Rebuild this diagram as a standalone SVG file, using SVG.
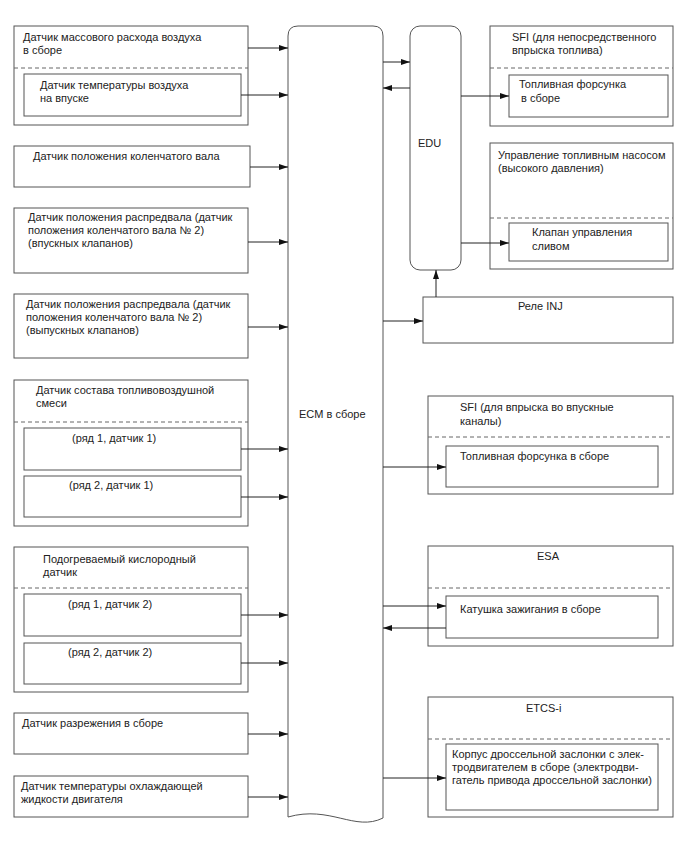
<svg xmlns="http://www.w3.org/2000/svg" width="688" height="852" viewBox="0 0 688 852">
<defs>
<marker id="ah" markerWidth="9" markerHeight="6" refX="9" refY="3" orient="auto" markerUnits="userSpaceOnUse"><path d="M0,0 L9,3 L0,6 Z" fill="#111"/></marker>
<style>
.b{fill:#fff;stroke:#555;stroke-width:1}
.d{stroke:#666;stroke-width:1;stroke-dasharray:4,3;fill:none}
.c{stroke:#222;stroke-width:1;fill:none;marker-end:url(#ah)}
text{font-family:"Liberation Sans",Arial,sans-serif;font-size:11px;fill:#222}
</style>
</defs>
<rect width="688" height="852" fill="#fff"/>
<g id="ecm">
<path class="b" d="M288,36 Q288,26 298,26 L373,26 Q383,26 383,36 L383,818 C355,832 330,805 288,817 Z"/>
<text x="299" y="418">ECM в сборе</text>
</g>
<g id="edu">
<rect class="b" x="410" y="26" width="51" height="244" rx="10"/>
<text x="418" y="147">EDU</text>
</g>
<g id="maf">
<rect class="b" x="14" y="26" width="234" height="99"/>
<line class="d" x1="14" y1="68" x2="248" y2="68"/>
<text x="23" y="41">Датчик массового расхода воздуха</text>
<text x="23" y="54">в сборе</text>
<rect class="b" x="24" y="74" width="217" height="42"/>
<text x="40" y="89">Датчик температуры воздуха</text>
<text x="40" y="102">на впуске</text>
</g>
<g id="ckp">
<rect class="b" x="14" y="146" width="236" height="41"/>
<text x="33" y="160">Датчик положения коленчатого вала</text>
</g>
<g id="cmp-in">
<rect class="b" x="14" y="208" width="234" height="65"/>
<text x="28" y="221">Датчик положения распредвала (датчик</text>
<text x="28" y="234">положения коленчатого вала № 2)</text>
<text x="28" y="247">(впускных клапанов)</text>
</g>
<g id="cmp-ex">
<rect class="b" x="14" y="294" width="234" height="64"/>
<text x="26" y="308">Датчик положения распредвала (датчик</text>
<text x="26" y="321">положения коленчатого вала № 2)</text>
<text x="26" y="334">(выпускных клапанов)</text>
</g>
<g id="af">
<rect class="b" x="14" y="380" width="234" height="146"/>
<text x="36" y="394">Датчик состава топливовоздушной</text>
<text x="36" y="407">смеси</text>
<line class="d" x1="14" y1="422" x2="248" y2="422"/>
<rect class="b" x="24" y="428" width="217" height="42"/>
<text x="72" y="442">(ряд 1, датчик 1)</text>
<rect class="b" x="24" y="476" width="217" height="41"/>
<text x="69" y="489">(ряд 2, датчик 1)</text>
</g>
<g id="o2">
<rect class="b" x="14" y="547" width="234" height="145"/>
<text x="43" y="563">Подогреваемый кислородный</text>
<text x="43" y="576">датчик</text>
<line class="d" x1="14" y1="588" x2="248" y2="588"/>
<rect class="b" x="24" y="594" width="217" height="42"/>
<text x="68" y="608">(ряд 1, датчик 2)</text>
<rect class="b" x="24" y="643" width="217" height="41"/>
<text x="68" y="656">(ряд 2, датчик 2)</text>
</g>
<g id="map">
<rect class="b" x="14" y="713" width="234" height="41"/>
<text x="22" y="727">Датчик разрежения в сборе</text>
</g>
<g id="ect">
<rect class="b" x="14" y="776" width="234" height="41"/>
<text x="21" y="790">Датчик температуры охлаждающей</text>
<text x="21" y="803">жидкости двигателя</text>
</g>
<g id="sfi-d">
<rect class="b" x="490" y="26" width="183" height="100"/>
<text x="512" y="41">SFI (для непосредственного</text>
<text x="512" y="54">впрыска топлива)</text>
<line class="d" x1="490" y1="68" x2="673" y2="68"/>
<rect class="b" x="509" y="75" width="159" height="42"/>
<text x="519" y="88">Топливная форсунка</text>
<text x="521" y="102">в сборе</text>
</g>
<g id="pump">
<rect class="b" x="490" y="143" width="183" height="126"/>
<text x="498" y="159">Управление топливным насосом</text>
<text x="498" y="172">(высокого давления)</text>
<line class="d" x1="490" y1="218" x2="673" y2="218"/>
<rect class="b" x="509" y="223" width="159" height="38"/>
<text x="532" y="236">Клапан управления</text>
<text x="532" y="250">сливом</text>
</g>
<g id="relay">
<rect class="b" x="423" y="297" width="250" height="46"/>
<text x="518" y="310">Реле INJ</text>
</g>
<g id="sfi-p">
<rect class="b" x="428" y="396" width="245" height="98"/>
<text x="460" y="411">SFI (для впрыска во впускные</text>
<text x="460" y="425">каналы)</text>
<line class="d" x1="428" y1="437" x2="673" y2="437"/>
<rect class="b" x="446" y="446" width="212" height="41"/>
<text x="460" y="460">Топливная форсунка в сборе</text>
</g>
<g id="esa">
<rect class="b" x="428" y="546" width="245" height="100"/>
<text x="537" y="560">ESA</text>
<line class="d" x1="428" y1="588" x2="673" y2="588"/>
<rect class="b" x="446" y="596" width="212" height="42"/>
<text x="460" y="613">Катушка зажигания в сборе</text>
</g>
<g id="etcs">
<rect class="b" x="428" y="697" width="245" height="120"/>
<text x="526" y="712">ETCS-i</text>
<line class="d" x1="428" y1="739" x2="673" y2="739"/>
<rect class="b" x="446" y="744" width="212" height="66"/>
<text x="452" y="758">Корпус дроссельной заслонки с элек-</text>
<text x="452" y="771">тродвигателем в сборе (электродви-</text>
<text x="452" y="784">гатель привода дроссельной заслонки)</text>
</g>
<g id="connectors">
<line class="c" x1="248" y1="48" x2="288" y2="48"/>
<line class="c" x1="241" y1="95" x2="288" y2="95"/>
<line class="c" x1="250" y1="167" x2="288" y2="167"/>
<line class="c" x1="248" y1="242" x2="288" y2="242"/>
<line class="c" x1="248" y1="327" x2="288" y2="327"/>
<line class="c" x1="241" y1="449" x2="288" y2="449"/>
<line class="c" x1="241" y1="497" x2="288" y2="497"/>
<line class="c" x1="241" y1="615" x2="288" y2="615"/>
<line class="c" x1="241" y1="663" x2="288" y2="663"/>
<line class="c" x1="248" y1="734" x2="288" y2="734"/>
<line class="c" x1="248" y1="797" x2="288" y2="797"/>
<line class="c" x1="383" y1="62" x2="410" y2="62"/>
<line class="c" x1="410" y1="88" x2="383" y2="88"/>
<line class="c" x1="461" y1="96" x2="509" y2="96"/>
<line class="c" x1="461" y1="243" x2="509" y2="243"/>
<line class="c" x1="436" y1="297" x2="436" y2="270"/>
<line class="c" x1="383" y1="321" x2="423" y2="321"/>
<line class="c" x1="383" y1="467" x2="446" y2="467"/>
<line class="c" x1="383" y1="606" x2="446" y2="606"/>
<line class="c" x1="446" y1="628" x2="383" y2="628"/>
<line class="c" x1="383" y1="778" x2="446" y2="778"/>
</g>
</svg>
